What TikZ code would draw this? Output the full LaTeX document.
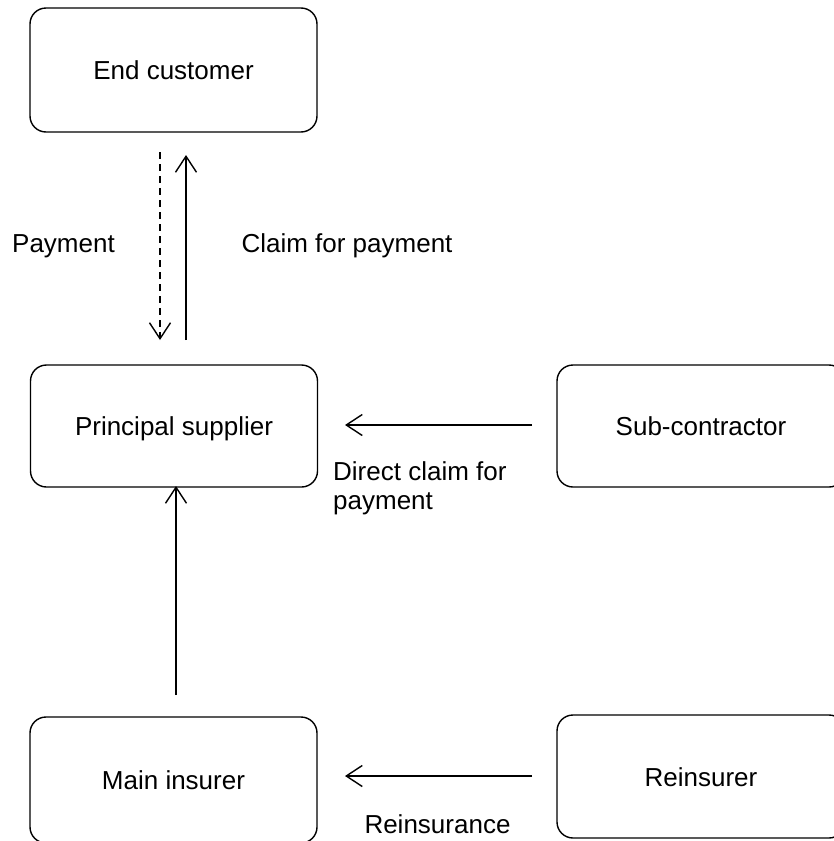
\documentclass[tikz,border=0pt]{standalone}
\usepackage{fontspec}
\setmainfont{Liberation Sans}
\usetikzlibrary{arrows.meta}
\begin{document}
\begin{tikzpicture}[x=1pt,y=-1pt,
  box/.style={draw,line width=1.4pt,rounded corners=16pt,inner sep=0pt,text height=19pt,text depth=0pt,font=\fontsize{26}{30}\selectfont},
  lbl/.style={font=\fontsize{26}{31}\selectfont,inner sep=0pt,anchor=base},
  arr/.style={line width=1.4pt,-{Straight Barb[length=16pt,width=21pt,line width=1.4pt]}}]
\useasboundingbox (0,0) rectangle (833,841);
\node[box,minimum width=287pt,minimum height=124pt] (end) at (173.5,70) {End customer};
\node[box,minimum width=287pt,minimum height=122pt] (prin) at (174,426) {Principal supplier};
\node[box,minimum width=288pt,minimum height=122pt] (sub) at (701,426) {Sub-contractor};
\node[box,minimum width=287pt,minimum height=126pt] (main) at (173.5,780) {Main insurer};
\node[box,minimum width=288pt,minimum height=123pt] (rein) at (701,776.5) {Reinsurer};
% connector end points
\coordinate (p1) at (160,152);
\coordinate (p2) at (160,340);
\coordinate (q1) at (186,340);
\coordinate (q2) at (186,155);
\coordinate (s1) at (532,425);
\coordinate (s2) at (345,425);
\coordinate (m1) at (176,695);
\coordinate (m2) at (176,486);
\coordinate (r1) at (532,776);
\coordinate (r2) at (345,776);
\draw[arr,dash pattern=on 7pt off 5pt] (p1) -- (p2);
\draw[arr] (q1) -- (q2);
\draw[arr] (s1) -- (s2);
\draw[arr] (m1) -- (m2);
\draw[arr] (r1) -- (r2);
\node[lbl] (pay) at (63.5,252) {Payment};
\node[lbl] (claim) at (347,252) {Claim for payment};
\node[lbl,anchor=base west] (direct1) at (333,480) {Direct claim for};
\node[lbl,anchor=base west] (direct2) at (333,509) {payment};
\node[lbl] (reins) at (437.5,833) {Reinsurance};
\end{tikzpicture}
\end{document}
